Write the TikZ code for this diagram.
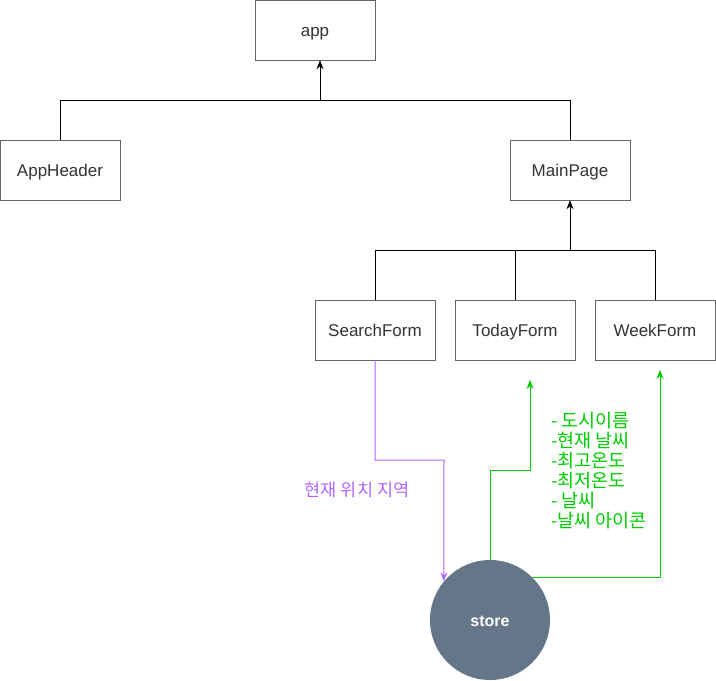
\documentclass[tikz,border=0pt]{standalone}
\usepackage{fontspec}
\setmainfont{Liberation Sans}
\newfontfamily\kr{Noto Sans CJK KR}
\usetikzlibrary{arrows.meta}
\definecolor{boxline}{HTML}{666666}
\definecolor{boxtext}{HTML}{333333}
\definecolor{storefill}{HTML}{647687}
\definecolor{locline}{HTML}{B266FF}
\definecolor{dataline}{HTML}{00CC00}

\begin{document}
\begin{tikzpicture}[x=1pt,y=-1pt,
    comp/.style={draw=boxline,text=boxtext,minimum width=120pt,minimum height=60pt,inner sep=0pt,text height=12pt,text depth=0pt,font=\fontsize{17}{20}\selectfont},
    tree/.style={draw=black,line width=1pt},
    up/.style={tree,-{Stealth[length=9pt,width=7pt]}},
    locflow/.style={draw=locline,line width=1pt,-{Stealth[length=9pt,width=7pt]}},
    dataflow/.style={draw=dataline,line width=1pt,-{Stealth[length=9pt,width=7pt]}}]
    \useasboundingbox (0,0) rectangle (716,681);

    % components
    \node[comp] (app)        at (315,30)  {app};
    \node[comp] (appheader)  at (60,170)  {AppHeader};
    \node[comp] (mainpage)   at (570,170) {MainPage};
    \node[comp] (searchform) at (375,330) {SearchForm};
    \node[comp] (todayform)  at (515,330) {TodayForm};
    \node[comp] (weekform)   at (655,330) {WeekForm};
    \node[circle,fill=storefill,text=white,minimum size=120pt,inner sep=0pt,text height=12pt,text depth=0pt,font=\bfseries\fontsize{16}{18}\selectfont] (store) at (490,620) {store};

    % tree
    \coordinate (apptree)  at (320,100);
    \coordinate (pagetree) at (570,250);
    \draw[tree] (appheader.north) |- (apptree);
    \draw[tree] (mainpage.north)  |- (apptree);
    \draw[up]   (apptree) -- (apptree |- app.south);
    \draw[tree] (searchform.north) |- (pagetree);
    \draw[tree] (todayform.north)  -- (todayform.north |- pagetree);
    \draw[tree] (weekform.north)   |- (pagetree);
    \draw[up]   (pagetree) -- (mainpage.south);

    % location to store
    \coordinate (locbend) at (444,460);
    \draw[locflow] (searchform.south) |- (locbend) -- (store.140);
    \node[text=locline,font=\kr\fontsize{17.5}{20}\selectfont] (loclabel) at (357,490) {현재 위치 지역};

    % weather data from store
    \coordinate (todayin) at (530,380);
    \coordinate (weekin)  at (660,370);
    \coordinate (todaybend) at (490,470);
    \draw[dataflow] (store.north) -- (todaybend) -| (todayin);
    \draw[dataflow] (store.45) -| (weekin);
    \node[text=dataline,anchor=north west,align=left,inner sep=0pt,font=\kr\fontsize{18.5}{20}\selectfont] (datalabel) at (551,412)
        {- 도시이름\\-현재 날씨\\-최고온도\\-최저온도\\- 날씨\\-날씨 아이콘};
\end{tikzpicture}
\end{document}
